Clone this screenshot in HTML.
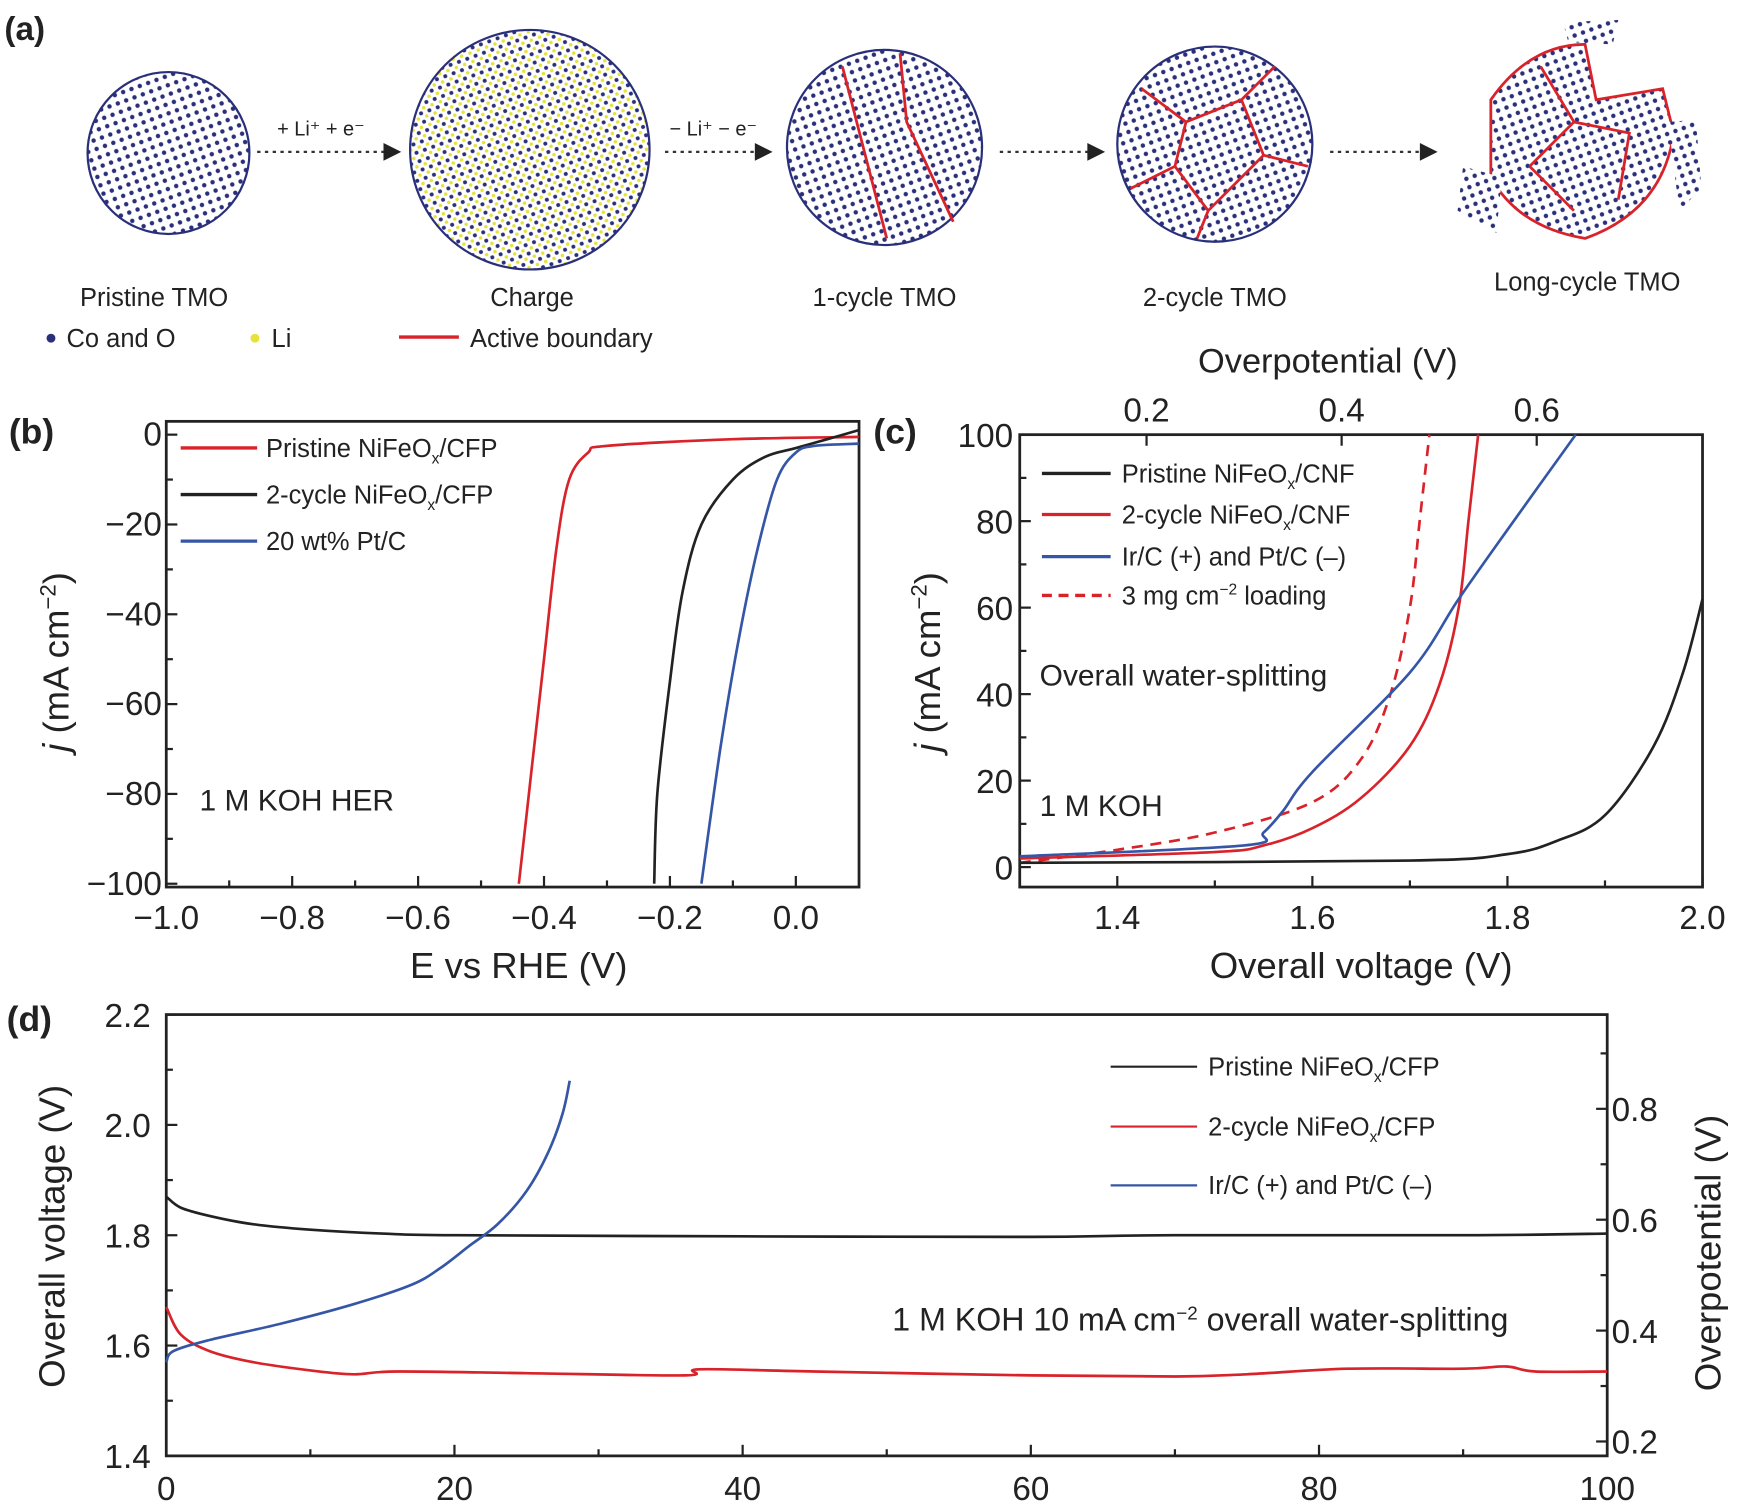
<!DOCTYPE html>
<html><head><meta charset="utf-8"><style>
html,body{margin:0;padding:0;background:#fff}
svg{display:block}
text{font-family:"Liberation Sans",sans-serif;fill:#222}
</style></head><body>
<svg id="fig" width="1738" height="1508" viewBox="0 0 1568 1360" preserveAspectRatio="none" xmlns="http://www.w3.org/2000/svg">
<defs>
<pattern id="dots" width="8" height="8" patternUnits="userSpaceOnUse" patternTransform="rotate(-20)"><rect width="8" height="8" fill="#fff"/><circle cx="4" cy="4" r="2" fill="#2a2f7a"/></pattern>
<pattern id="dotsLi" width="8" height="8" patternUnits="userSpaceOnUse" patternTransform="rotate(-20)"><rect width="8" height="8" fill="#fff"/><circle cx="2" cy="2" r="1.8" fill="#2a2f7a"/><circle cx="6" cy="6" r="1.6" fill="#e6e23a"/></pattern>
</defs>
<g id="panelA">
<text x="4" y="36" font-size="30" font-weight="bold">(a)</text>
<circle cx="152" cy="138" r="73" fill="url(#dots)" stroke="#2a2f7a" stroke-width="2"/>
<circle cx="478" cy="135" r="108" fill="url(#dotsLi)" stroke="#2a2f7a" stroke-width="2"/>
<g><circle cx="798" cy="133" r="88" fill="url(#dots)" stroke="#2a2f7a" stroke-width="2"/>
<path d="M760 60 L800 215 M812 48 L818 110 L860 200" stroke="#d8232a" stroke-width="2.5" fill="none"/></g>
<g><circle cx="1096" cy="130" r="88" fill="url(#dots)" stroke="#2a2f7a" stroke-width="2"/>
<path d="M1030 80 L1070 110 L1060 150 L1020 170 M1070 110 L1120 90 L1150 60 M1120 90 L1140 140 L1180 150 M1060 150 L1090 190 L1080 215 M1090 190 L1140 140" stroke="#d8232a" stroke-width="2.5" fill="none"/></g>
<g>
<path d="M1345 90 Q1380 40 1430 40 L1440 90 L1500 80 L1510 120 Q1500 190 1430 215 Q1370 205 1345 160 Z" fill="url(#dots)" stroke="#d8232a" stroke-width="2.5"/>
<path d="M1390 60 L1420 110 L1380 150 M1420 110 L1470 120 L1460 180 M1380 150 L1420 190" stroke="#d8232a" stroke-width="2.5" fill="none"/>
<path d="M1410 20 L1460 18 L1455 40 L1415 38 Z" fill="url(#dots)"/>
<path d="M1320 150 L1355 160 L1350 210 L1315 190 Z" fill="url(#dots)"/>
<path d="M1505 110 L1530 108 L1535 170 L1515 190 Z" fill="url(#dots)"/>
</g>
<g font-size="22">
<line x1="232" y1="137" x2="352" y2="137" stroke="#333" stroke-width="2" stroke-dasharray="3,4"/><path d="M362 137 L346 129 L346 145 Z" fill="#222"/>
<text x="250" y="122" font-size="18">+ Li⁺ + e⁻</text>
<line x1="600" y1="137" x2="685" y2="137" stroke="#333" stroke-width="2" stroke-dasharray="3,4"/><path d="M697 137 L681 129 L681 145 Z" fill="#222"/>
<text x="604" y="122" font-size="18">− Li⁺ − e⁻</text>
<line x1="902" y1="137" x2="985" y2="137" stroke="#333" stroke-width="2" stroke-dasharray="3,4"/><path d="M997 137 L981 129 L981 145 Z" fill="#222"/>
<line x1="1200" y1="137" x2="1285" y2="137" stroke="#333" stroke-width="2" stroke-dasharray="3,4"/><path d="M1297 137 L1281 129 L1281 145 Z" fill="#222"/>
</g>
<g font-size="23">
<text x="139" y="276" text-anchor="middle">Pristine TMO</text>
<text x="480" y="276" text-anchor="middle">Charge</text>
<text x="798" y="276" text-anchor="middle">1-cycle TMO</text>
<text x="1096" y="276" text-anchor="middle">2-cycle TMO</text>
<text x="1432" y="262" text-anchor="middle">Long-cycle TMO</text>
<g>
<circle cx="46" cy="305" r="4" fill="#2a2f7a"/><text x="60" y="313">Co and O</text>
<circle cx="230" cy="305" r="4" fill="#e6e23a"/><text x="245" y="313">Li</text>
<line x1="360" y1="304" x2="414" y2="304" stroke="#d8232a" stroke-width="3"/><text x="424" y="313">Active boundary</text>
</g></g>
</g>
<g id="panelB"></g>
<g id="panelC"></g>
<g id="panelD"></g>
</svg>
<script>
// Panel b data: E vs RHE (V), j (mA cm^-2)
const bTicksX=[-1.0,-0.8,-0.6,-0.4,-0.2,0.0];
const bTicksY=[0,-20,-40,-60,-80,-100];
const bPristineE=[0.1,-0.1,-0.3,-0.33,-0.36,-0.38,-0.40,-0.42,-0.44];
const bPristineJ=[-0.5,-1,-2.5,-4,-10,-25,-50,-75,-100];
const bCycleE=[0.1,0.05,0.0,-0.05,-0.1,-0.15,-0.18,-0.2,-0.22,-0.225];
const bCycleJ=[1,-1,-3,-5,-10,-20,-35,-55,-80,-100];
const bPtE=[0.1,0.03,0.0,-0.03,-0.06,-0.09,-0.12,-0.15];
const bPtJ=[-2,-2.5,-4,-10,-25,-45,-70,-100];
// Panel c data: Overall voltage (V), j
const cTicksX=[1.4,1.6,1.8,2.0];
const cTicksY=[0,20,40,60,80,100];
const cTicksTop=[0.2,0.4,0.6];
const cPristineV=[1.3,1.7,1.8,1.85,1.9,1.95,1.98,2.0];
const cPristineJ=[1,1.5,3,6,12,28,45,62];
const cCycleV=[1.3,1.5,1.55,1.6,1.65,1.7,1.73,1.75,1.76,1.77];
const cCycleJ=[2,3.5,5,9,16,28,42,60,80,100];
const cIrV=[1.3,1.53,1.55,1.57,1.6,1.7,1.75,1.8,1.87];
const cIrJ=[2.5,5,8,13,22,45,62,78,100];
const cLoadV=[1.3,1.4,1.5,1.6,1.65,1.68,1.7,1.71,1.72];
const cLoadJ=[1,4,8,15,25,40,60,80,100];
// Panel d data: time (h), voltage (V)
const dTicksX=[0,20,40,60,80,100];
const dTicksY=[1.4,1.6,1.8,2.0,2.2];
const dTicksR=[0.2,0.4,0.6,0.8];
const dPristineT=[0,1,3,6,10,15,20,40,60,70,90,100];
const dPristineV=[1.87,1.85,1.835,1.82,1.81,1.803,1.8,1.798,1.797,1.8,1.8,1.803];
const dCycleT=[0,1,3,6,10,13,16,25,36,37,45,60,70,75,82,90,93,95,100];
const dCycleV=[1.67,1.62,1.59,1.57,1.555,1.548,1.553,1.55,1.546,1.557,1.553,1.546,1.544,1.548,1.558,1.558,1.562,1.553,1.553];
const dIrT=[0,0.5,3,8,13,17,19,21,23,25,26.5,27.5,28];
const dIrV=[1.57,1.59,1.61,1.64,1.675,1.71,1.74,1.78,1.82,1.88,1.95,2.02,2.08];

const NS="http://www.w3.org/2000/svg";
function mk(parent,tag,attrs,txt){const e=document.createElementNS(NS,tag);for(const k in attrs)e.setAttribute(k,attrs[k]);if(txt!==undefined)e.textContent=txt;parent.appendChild(e);return e;}
function fmt(v,d){const s=Math.abs(v).toFixed(d);return v<0?'−'+s:s;}
function line(parent,xs,ys,sx,sy,color,name,dash){
  const P=xs.map((x,i)=>[sx(x),sy(ys[i])]);
  let d='M'+P[0][0].toFixed(1)+' '+P[0][1].toFixed(1);
  for(let i=0;i<P.length-1;i++){
    const p0=P[Math.max(0,i-1)],p1=P[i],p2=P[i+1],p3=P[Math.min(P.length-1,i+2)];
    const c1=[p1[0]+(p2[0]-p0[0])/6,p1[1]+(p2[1]-p0[1])/6];
    const c2=[p2[0]-(p3[0]-p1[0])/6,p2[1]-(p3[1]-p1[1])/6];
    d+=' C'+c1[0].toFixed(1)+' '+c1[1].toFixed(1)+' '+c2[0].toFixed(1)+' '+c2[1].toFixed(1)+' '+p2[0].toFixed(1)+' '+p2[1].toFixed(1);
  }
  const p=mk(parent,'path',{d:d,fill:'none',stroke:color,'stroke-width':2.4});
  if(dash)p.setAttribute('stroke-dasharray',dash);
  
  
}
const RED='#d8232a',BLK='#222',BLU='#3556a6';

// ---- Panel b
(function(){
const g=document.getElementById('panelB');
const L=150,R=775,T=380;const B=800;
const sx=v=>L+(v+1.0)/1.0*568;const sy=v=>392+(v/-100)*405;
mk(g,'rect',{x:L,y:T,width:R-L,height:B-T,fill:'none',stroke:'#222','stroke-width':2.5});
for(const t of bTicksX){const x=sx(t);mk(g,'line',{x1:x,y1:B,x2:x,y2:B-10,stroke:'#222','stroke-width':2});
 const tl=mk(g,'text',{x:x,y:B+38,'font-size':30,'text-anchor':'middle'},fmt(t,1));}
for(let t=-0.9;t<0.1;t+=0.2){const x=sx(t);mk(g,'line',{x1:x,y1:B,x2:x,y2:B-6,stroke:'#222','stroke-width':2});}
for(const t of bTicksY){const y=sy(t);mk(g,'line',{x1:L,y1:y,x2:L+10,y2:y,stroke:'#222','stroke-width':2});
 const tl=mk(g,'text',{x:L-4,y:y+10,'font-size':30,'text-anchor':'end'},fmt(t,0));}
for(let t=-10;t>-100;t-=20){const y=sy(t);mk(g,'line',{x1:L,y1:y,x2:L+6,y2:y,stroke:'#222','stroke-width':2});}
line(g,bPristineE,bPristineJ,sx,sy,RED,'b-pristine-line');
line(g,bCycleE,bCycleJ,sx,sy,BLK,'b-2-cycle-line');
line(g,bPtE,bPtJ,sx,sy,BLU,'b-pt-c-line');
const t1=mk(g,'text',{x:8,y:400,'font-size':32,'font-weight':'bold'},'(b)');
const xt=mk(g,'text',{x:468,y:882,'font-size':33,'text-anchor':'middle'},'E vs RHE (V)');
const yt=mk(g,'text',{x:0,y:0,'font-size':33,'text-anchor':'middle',transform:'translate(62,597) rotate(-90)'});yt.innerHTML='<tspan font-style="italic">j</tspan> (mA cm<tspan dy="-12" font-size="20">−2</tspan><tspan dy="12">)</tspan>';

const lg=[['Pristine NiFeO','/CFP',RED,404],['2-cycle NiFeO','/CFP',BLK,446],['20 wt% Pt/C','',BLU,488]];
for(const [a,b,c,y] of lg){const e=mk(g,'g',{});
 mk(e,'line',{x1:163,y1:y,x2:232,y2:y,stroke:c,'stroke-width':3});
 const t=mk(e,'text',{x:240,y:y+8,'font-size':23});t.innerHTML=a+(b?'<tspan dy="6" font-size="14">x</tspan><tspan dy="-6">'+b+'</tspan>':'');}
const an=mk(g,'text',{x:180,y:731,'font-size':27},'1 M KOH HER');
})();

// ---- Panel c
(function(){
const g=document.getElementById('panelC');
const L=920,R=1536,T=392,B=800;
const sx=v=>L+(v-1.3)/0.7*616;const sy=v=>782-v*3.9;
mk(g,'rect',{x:L,y:T,width:R-L,height:B-T,fill:'none',stroke:'#222','stroke-width':2.5});
for(const t of cTicksX){const x=sx(t);mk(g,'line',{x1:x,y1:B,x2:x,y2:B-10,stroke:'#222','stroke-width':2});
 const tl=mk(g,'text',{x:x,y:B+38,'font-size':30,'text-anchor':'middle'},t.toFixed(1));}
for(let t=1.3;t<2.0;t+=0.2){const x=sx(t);mk(g,'line',{x1:x,y1:B,x2:x,y2:B-6,stroke:'#222','stroke-width':2});}
for(const t of cTicksTop){const x=sx(t+1.23);mk(g,'line',{x1:x,y1:T,x2:x,y2:T+10,stroke:'#222','stroke-width':2});
 const tl=mk(g,'text',{x:x,y:T-12,'font-size':30,'text-anchor':'middle'},t.toFixed(1));}
for(const t of cTicksY){const y=sy(t);mk(g,'line',{x1:L,y1:y,x2:L+10,y2:y,stroke:'#222','stroke-width':2});
 const tl=mk(g,'text',{x:L-6,y:y+11,'font-size':30,'text-anchor':'end'},String(t));}
for(let t=10;t<100;t+=20){const y=sy(t);mk(g,'line',{x1:L,y1:y,x2:L+6,y2:y,stroke:'#222','stroke-width':2});}
line(g,cLoadV,cLoadJ,sx,sy,RED,'c-3mg-loading-line','10,7');
line(g,cPristineV,cPristineJ,sx,sy,BLK,'c-pristine-line');
line(g,cCycleV,cCycleJ,sx,sy,RED,'c-2-cycle-line');
line(g,cIrV,cIrJ,sx,sy,BLU,'c-ir-pt-line');
const t1=mk(g,'text',{x:788,y:400,'font-size':32,'font-weight':'bold'},'(c)');
const xt=mk(g,'text',{x:1228,y:882,'font-size':33,'text-anchor':'middle'},'Overall voltage (V)');
const tt=mk(g,'text',{x:1198,y:336,'font-size':31,'text-anchor':'middle'},'Overpotential (V)');
const yt=mk(g,'text',{x:0,y:0,'font-size':33,'text-anchor':'middle',transform:'translate(848,597) rotate(-90)'});yt.innerHTML='<tspan font-style="italic">j</tspan> (mA cm<tspan dy="-12" font-size="20">−2</tspan><tspan dy="12">)</tspan>';

const lg=[['Pristine NiFeO<tspan dy="6" font-size="14">x</tspan><tspan dy="-6">/CNF</tspan>',BLK,427,''],['2-cycle NiFeO<tspan dy="6" font-size="14">x</tspan><tspan dy="-6">/CNF</tspan>',RED,464,''],['Ir/C (+) and Pt/C (–)',BLU,502,''],['3 mg cm<tspan dy="-9" font-size="14">−2</tspan><tspan dy="9"> loading</tspan>',RED,537,'9,6']];
for(const [a,c,y,d] of lg){const e=mk(g,'g',{});
 const l=mk(e,'line',{x1:940,y1:y,x2:1002,y2:y,stroke:c,'stroke-width':3});if(d)l.setAttribute('stroke-dasharray',d);
 const t=mk(e,'text',{x:1012,y:y+8,'font-size':23});t.innerHTML=a;}
const a1=mk(g,'text',{x:938,y:618,'font-size':27},'Overall water-splitting');
const a2=mk(g,'text',{x:938,y:736,'font-size':27},'1 M KOH');
})();

// ---- Panel d
(function(){
const g=document.getElementById('panelD');
const L=150,R=1450,T=915,B=1313;
const sx=v=>L+v/100*(R-L);const sy=v=>B-(v-1.4)/0.8*(B-T);const syR=v=>1300-(v-0.2)/0.6*300;
mk(g,'rect',{x:L,y:T,width:R-L,height:B-T,fill:'none',stroke:'#222','stroke-width':2.5});
for(const t of dTicksX){const x=sx(t);mk(g,'line',{x1:x,y1:B,x2:x,y2:B-10,stroke:'#222','stroke-width':2});
 const tl=mk(g,'text',{x:x,y:B+40,'font-size':30,'text-anchor':'middle'},String(t));}
for(let t=10;t<100;t+=20){const x=sx(t);mk(g,'line',{x1:x,y1:B,x2:x,y2:B-6,stroke:'#222','stroke-width':2});}
for(const t of dTicksY){const y=sy(t);mk(g,'line',{x1:L,y1:y,x2:L+10,y2:y,stroke:'#222','stroke-width':2});
 const tl=mk(g,'text',{x:L-14,y:y+11,'font-size':30,'text-anchor':'end'},t.toFixed(1));}
for(let t=1.5;t<2.2;t+=0.2){const y=sy(t);mk(g,'line',{x1:L,y1:y,x2:L+6,y2:y,stroke:'#222','stroke-width':2});}
for(const t of dTicksR){const y=syR(t);mk(g,'line',{x1:R,y1:y,x2:R-10,y2:y,stroke:'#222','stroke-width':2});
 const tl=mk(g,'text',{x:R+4,y:y+11,'font-size':30},t.toFixed(1));}
for(let t=0.3;t<0.9;t+=0.2){const y=syR(t);mk(g,'line',{x1:R,y1:y,x2:R-6,y2:y,stroke:'#222','stroke-width':2});}
line(g,dPristineT,dPristineV,sx,sy,BLK,'d-pristine-line');
line(g,dCycleT,dCycleV,sx,sy,RED,'d-2-cycle-line');
line(g,dIrT,dIrV,sx,sy,BLU,'d-ir-pt-line');
const t1=mk(g,'text',{x:6,y:930,'font-size':32,'font-weight':'bold'},'(d)');
const yt=mk(g,'text',{x:0,y:0,'font-size':33,'text-anchor':'middle',transform:'translate(58,1115) rotate(-90)'},'Overall voltage (V)');
const yr=mk(g,'text',{x:0,y:0,'font-size':33,'text-anchor':'middle',transform:'translate(1552,1130) rotate(-90)'},'Overpotential (V)');
const lg=[['Pristine NiFeO<tspan dy="6" font-size="14">x</tspan><tspan dy="-6">/CFP</tspan>',BLK,962],['2-cycle NiFeO<tspan dy="6" font-size="14">x</tspan><tspan dy="-6">/CFP</tspan>',RED,1016],['Ir/C (+) and Pt/C (–)',BLU,1069]];
for(const [a,c,y] of lg){const e=mk(g,'g',{});
 mk(e,'line',{x1:1002,y1:y,x2:1080,y2:y,stroke:c,'stroke-width':2});
 const t=mk(e,'text',{x:1090,y:y+8,'font-size':23});t.innerHTML=a;}
const an=mk(g,'text',{x:805,y:1200,'font-size':29});an.innerHTML='1 M KOH 10 mA cm<tspan dy="-10" font-size="17">−2</tspan><tspan dy="10"> overall water-splitting</tspan>';

})();
</script>
</body></html>
